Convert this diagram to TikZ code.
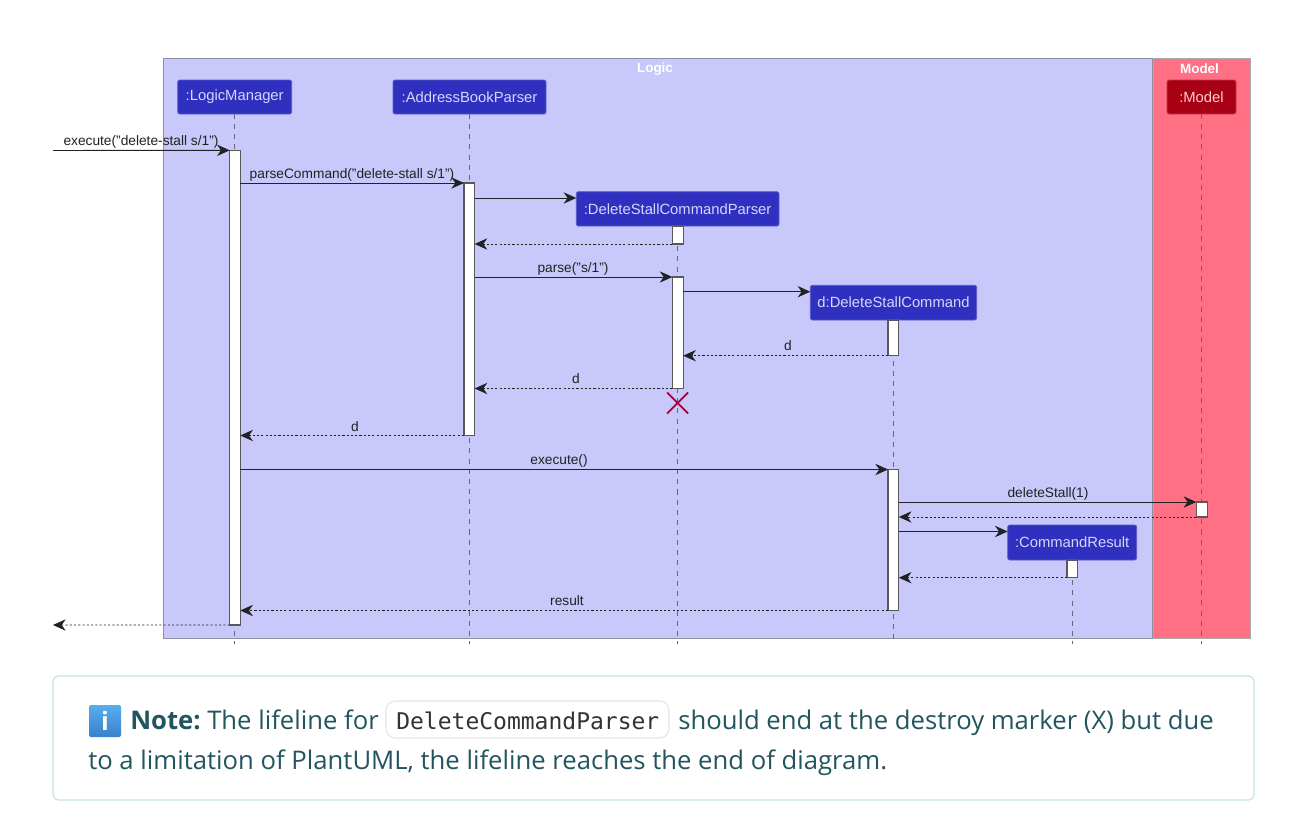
\documentclass[tikz,border=0pt]{standalone}
\usepackage{fontspec}
\setmainfont{Liberation Sans}
\newfontfamily\notefont{Open Sans}
\newfontfamily\codefont{DejaVu Sans Mono}
\usetikzlibrary{arrows.meta,calc}
\definecolor{logicbg}{HTML}{C8C8FA}
\definecolor{modelbg}{HTML}{FF7085}
\definecolor{framegray}{HTML}{9090A0}
\definecolor{framegrayb}{HTML}{AAAAAA}
\definecolor{actorblue}{HTML}{3030C0}
\definecolor{actoredge}{HTML}{5A5AC8}
\definecolor{actortext}{HTML}{D6D6FA}
\definecolor{actorred}{HTML}{A80014}
\definecolor{actorrededge}{HTML}{C43A4A}
\definecolor{inkline}{HTML}{222222}
\definecolor{lifegray}{HTML}{66667A}
\definecolor{xred}{HTML}{A80036}
\definecolor{noteedge}{HTML}{C6E4EA}
\definecolor{notetext}{HTML}{22555F}
\definecolor{chipedge}{HTML}{E6E6E6}
\definecolor{icontop}{HTML}{58AEEE}
\definecolor{iconbot}{HTML}{3A80CC}
\tikzset{
  x=0.75pt,y=-0.75pt,
  sz/.style 2 args={minimum width=#1*0.75pt,minimum height=#2*0.75pt,outer sep=0pt},
  frameboxa/.style={draw=framegray,line width=0.75pt,fill=logicbg,anchor=north west,inner sep=0pt},
  frameboxb/.style={draw=framegrayb,line width=0.75pt,fill=modelbg,anchor=north west,inner sep=0pt},
  frametitle/.style={text=white,font=\bfseries\fontsize{10.1}{12}\selectfont,inner sep=0pt},
  actorbox/.style={draw=actoredge,line width=0.6pt,fill=actorblue,rounded corners=1.6pt,anchor=north west,inner sep=0pt,text=actortext,font=\fontsize{11.1}{13}\selectfont},
  actorboxred/.style={actorbox,draw=actorrededge,fill=actorred,text=white!80!red},
  lifeline/.style={draw=lifegray,line width=0.7pt,dash pattern=on 3.8pt off 3.8pt},
  activebar/.style={draw=inkline!75,line width=0.8pt,fill=white,anchor=north west,inner sep=0pt},
  msg/.style={draw=inkline,line width=0.7pt,-{Stealth[length=9.5pt,width=8.5pt,inset=3pt]}},
  ret/.style={msg,dash pattern=on 1.6pt off 1.6pt},
  msglabel/.style={text=inkline,font=\fontsize{10.3}{12}\selectfont,inner sep=0pt,anchor=base},
  notebit/.style={text=notetext,inner sep=0pt,anchor=base west,font=\notefont\fontsize{19.25}{23}\selectfont},
}
\begin{document}
\begin{tikzpicture}
\useasboundingbox (0,0) rectangle (1296,828);
\fill[white] (0,0) rectangle (1296,828);

% frames
\node[frameboxa,sz={988.5}{580}] (logicframe) at (163.5,58) {};
\node[frameboxb,sz={97.5}{580}] (modelframe) at (1153,58) {};
\node[frametitle] (logictitle) at (655,69.5) {Logic};
\node[frametitle] (modeltitle) at (1199.5,68.5) {Model};

% lifeline ends
\coordinate (lmend) at (234.7,644);
\coordinate (abpend) at (469,644);
\coordinate (dpend) at (677.7,644);
\coordinate (dcend) at (893.3,644);
\coordinate (crend) at (1072.3,644);
\coordinate (moend) at (1201.7,644);

% actors
\node[actorbox,sz={114}{34}] (lm) at (177.7,80) {\raisebox{-1.4pt}{:LogicManager}};
\node[actorbox,sz={153}{34}] (abp) at (393,80) {\raisebox{-1.4pt}{:AddressBookParser}};
\node[actorbox,sz={202.7}{34.3}] (dp) at (576.3,191.7) {\raisebox{-1.4pt}{:DeleteStallCommandParser}};
\node[actorbox,sz={166.4}{34.7}] (dc) at (810.3,285.3) {\raisebox{-1.4pt}{d:DeleteStallCommand}};
\node[actorbox,sz={129}{35}] (cr) at (1007.7,525) {\raisebox{-1.4pt}{:CommandResult}};
\node[actorboxred,sz={69}{34}] (mo) at (1167,80) {\raisebox{-1.4pt}{:Model}};

\draw[lifeline] (lm.south -| lmend) -- (lmend);
\draw[lifeline] (abp.south -| abpend) -- (abpend);
\draw[lifeline] (dp.south -| dpend) -- (dpend);
\draw[lifeline] (dc.south -| dcend) -- (dcend);
\draw[lifeline] (cr.south -| crend) -- (crend);
\draw[lifeline] (mo.south -| moend) -- (moend);

% activation bars
\node[activebar,sz={10.6}{474.7}] (lmbar) at (229.7,150.3) {};
\node[activebar,sz={10.6}{252.5}] (abpbar) at (464,183) {};
\node[activebar,sz={10.8}{18}] (dpbara) at (672.4,226) {};
\node[activebar,sz={10.8}{111.5}] (dpbarb) at (672.4,277) {};
\node[activebar,sz={10.6}{35.7}] (dcbara) at (888,320) {};
\node[activebar,sz={10.8}{141}] (dcbarb) at (888,469.5) {};
\node[activebar,sz={11}{15}] (mobar) at (1196.3,502) {};
\node[activebar,sz={10.8}{17.7}] (crbar) at (1067,560) {};

% message levels
\coordinate (ma) at (53,150.5);
\coordinate (mb) at (53,625);
\coordinate (m3) at (0,198);
\coordinate (m8) at (0,291.7);
\coordinate (m14) at (0,531.5);

% messages
\draw[msg] (ma) -- (lmbar.north west);
\node[msglabel] (t1) at (141,145.5) {execute("delete-stall s/1")};
\draw[msg] (lmbar.east |- abpbar.north) -- (abpbar.north west);
\node[msglabel] (t2) at (352,178.5) {parseCommand("delete-stall s/1")};
\draw[msg] (abpbar.east |- m3) -- (dp.west |- m3);
\draw[ret] (dpbara.south west) -- (abpbar.east |- dpbara.south);
\draw[msg] (abpbar.east |- dpbarb.north) -- (dpbarb.north west);
\node[msglabel] (t3) at (573,272.5) {parse("s/1")};
\draw[msg] (dpbarb.east |- m8) -- (dc.west |- m8);
\draw[ret] (dcbara.south west) -- (dpbarb.east |- dcbara.south);
\node[msglabel] (t4) at (788,350.5) {d};
\draw[ret] (dpbarb.south west) -- (abpbar.east |- dpbarb.south);
\node[msglabel] (t5) at (576,383.5) {d};
\draw[ret] (abpbar.south west) -- (lmbar.east |- abpbar.south);
\node[msglabel] (t6) at (355,431.5) {d};
\draw[msg] (lmbar.east |- dcbarb.north) -- (dcbarb.north west);
\node[msglabel] (t7) at (559,464.5) {execute()};
\draw[msg] (dcbarb.east |- mobar.north) -- (mobar.north west);
\node[msglabel] (t8) at (1048,497) {deleteStall(1)};
\draw[ret] (mobar.south west) -- (dcbarb.east |- mobar.south);
\draw[msg] (dcbarb.east |- m14) -- (cr.west |- m14);
\draw[ret] (crbar.south west) -- (dcbarb.east |- crbar.south);
\draw[ret] (dcbarb.south west) -- (lmbar.east |- dcbarb.south);
\node[msglabel] (t9) at (567,605.5) {result};
\draw[ret] (lmbar.south west) -- (mb);

% destroy marker
\coordinate (xmark) at (677.7,403);
\draw[xred,line width=1.3pt] ($(xmark)+(-10.5,-10.5)$) -- ($(xmark)+(10.5,10.5)$);
\draw[xred,line width=1.3pt] ($(xmark)+(-10.5,10.5)$) -- ($(xmark)+(10.5,-10.5)$);

% note
\node[draw=noteedge,line width=0.9pt,fill=white,rounded corners=4pt,anchor=north west,inner sep=0pt,sz={1201}{124}] (notebox) at (53,676) {};
\node[draw=chipedge,line width=0.8pt,fill=white,rounded corners=7pt,anchor=north west,inner sep=0pt,sz={283}{37}] (chip) at (386,701) {};
\node[anchor=north west,inner sep=0pt,rounded corners=1.5pt,top color=icontop,bottom color=iconbot,sz={32}{32},text=white,font=\notefont\bfseries\fontsize{19}{22}\selectfont] (icon) at (89,705) {i};
\node[notebit,font=\notefont\bfseries\fontsize{19.25}{23}\selectfont] (nb) at (130,729.5) {Note:};
\node[notebit] (n1) at (207,729.5) {The lifeline for};
\node[notebit,text=black!80,font=\codefont\fontsize{17.25}{20}\selectfont] (code) at (396,729.5) {DeleteCommandParser};
\node[notebit] (n2) at (678,729.5) {should end at the destroy marker (X) but due};
\node[notebit] (n3) at (88,769.5) {to a limitation of PlantUML, the lifeline reaches the end of diagram.};
\end{tikzpicture}
\end{document}
